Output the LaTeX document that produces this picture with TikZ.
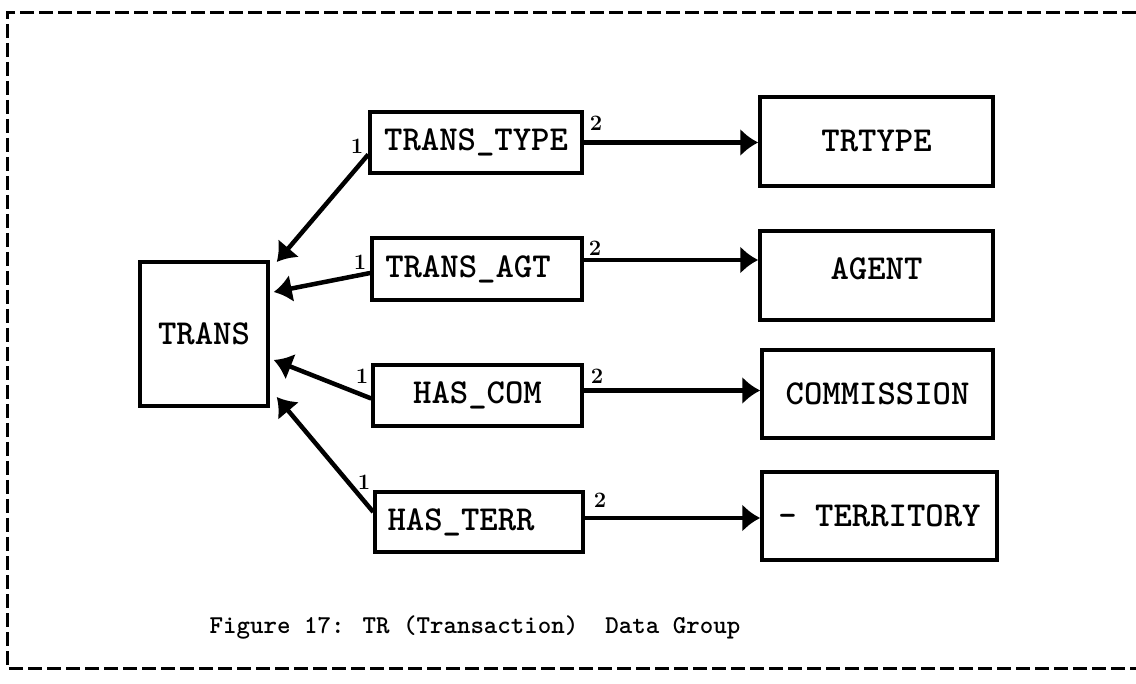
\documentclass[tikz,border=0pt]{standalone}
\usepackage{fontspec}
\usetikzlibrary{arrows.meta,calc}
\begin{document}
\begin{tikzpicture}[x=1pt,y=-1pt,
  entity/.style={draw, line width=3.5pt, inner sep=0pt,
    font=\ttfamily\bfseries\fontsize{35}{35}\selectfont},
  link/.style={line width=4.5pt, -{Latex[length=18pt,width=28pt]}},
  card/.style={font=\bfseries\fontsize{22}{22}\selectfont, inner sep=0pt},
  frame/.style={line width=3pt, dash pattern=on 14pt off 5pt}]
\useasboundingbox (0,0) rectangle (1136,684);

% dashed frame, open on the right
\draw[frame] (1136,13) -- (7,13) -- (7,668) -- (1136,668);

% entities
\node[entity, minimum width=128pt, minimum height=144pt] (trans) at (204,334) {TRANS};
\node[entity, minimum width=212pt, minimum height=61pt] (tt) at (476,142.5) {TRANS\_TYPE};
\node[entity, minimum width=210pt, minimum height=62pt] (ta) at (477,269) {TRANS\_AGT\hspace*{18pt}};
\node[entity, minimum width=209pt, minimum height=61pt] (hc) at (477.5,395.5) {HAS\_COM};
\node[entity, minimum width=208pt, minimum height=60pt] (ht) at (479,522) {HAS\_TERR\hspace*{36pt}};

\node[entity, minimum width=233pt, minimum height=89pt] (trtype) at (876.5,141.5) {TRTYPE};
\node[entity, minimum width=233pt, minimum height=89pt] (agent) at (876.5,275.5) {\raisebox{14pt}{AGENT}};
\node[entity, minimum width=231pt, minimum height=88pt] (comm) at (877.5,394) {COMMISSION};
\node[entity, minimum width=235pt, minimum height=88pt] (terr) at (879.5,516) {\raisebox{-6pt}{- TERRITORY}};

% relationships pointing back to TRANS
\draw[link] ([yshift=-12pt]tt.west) -- ([yshift=72pt,xshift=7pt]trans.east);
\draw[link] ([yshift=-4pt]ta.west) -- ([yshift=42pt,xshift=4pt]trans.east);
\draw[link] ([yshift=-3pt]hc.west) -- ([yshift=-26pt,xshift=4pt]trans.east);
\draw[link] ([yshift=10pt]ht.west) -- ([yshift=-63pt,xshift=7pt]trans.east);

% relationships pointing to the target entities
\draw[link] (tt.east) -- (tt.east -| trtype.west);
\draw[link] ([yshift=9pt]ta.east) -- ([yshift=9pt]ta.east -| agent.west);
\draw[link] ([yshift=5pt]hc.east) -- ([yshift=5pt]hc.east -| comm.west);
\draw[link] ([yshift=4pt]ht.east) -- ([yshift=4pt]ht.east -| terr.west);

% cardinalities
\node[card] (c1a) at (357,146) {1};
\node[card] (c1b) at (360,262) {1};
\node[card] (c1c) at (362,376) {1};
\node[card] (c1d) at (364,482) {1};
\node[card] (c2a) at (596,123) {2};
\node[card] (c2b) at (595,248) {2};
\node[card] (c2c) at (597,376) {2};
\node[card] (c2d) at (600,500) {2};

% caption
\node[font=\ttfamily\bfseries\fontsize{25.7}{25.7}\selectfont] (cap) at (475,627)
  {Figure 17: TR (Transaction)\ \ Data Group};
\end{tikzpicture}
\end{document}
